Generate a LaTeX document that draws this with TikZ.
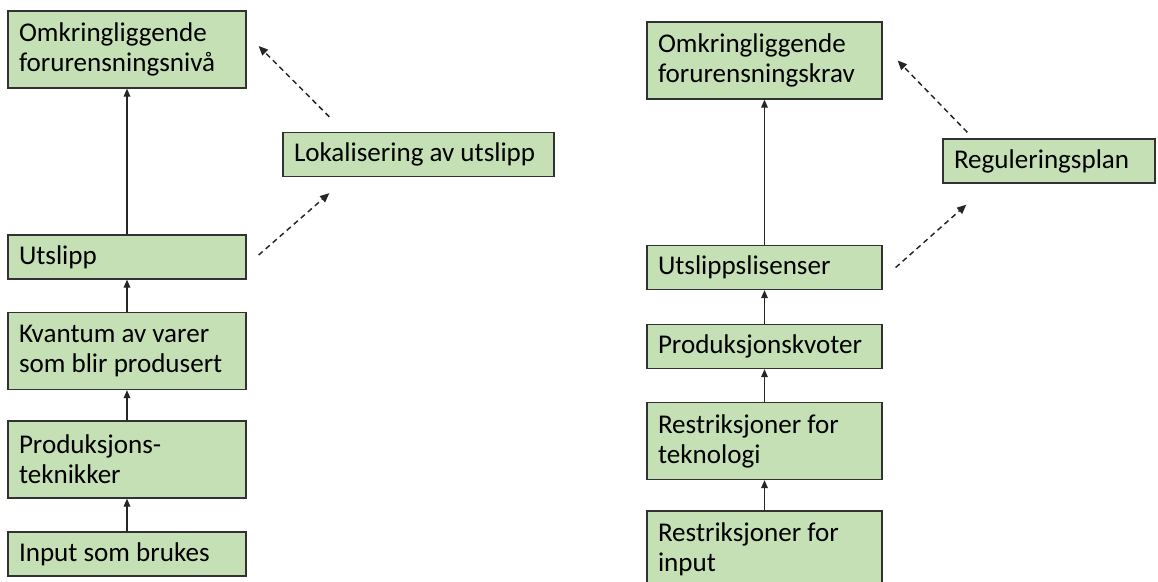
\documentclass[tikz,border=0pt]{standalone}
\usepackage{fontspec}
\setmainfont{Carlito}
\usetikzlibrary{arrows.meta,positioning}
\definecolor{boxgreen}{RGB}{197,224,180}
\definecolor{boxline}{RGB}{50,50,50}

\begin{document}
\begin{tikzpicture}[
    x=0.75pt, y=-0.75pt,
    every node/.style={font=\fontsize{20.3}{22.5}\selectfont},
    box/.style={draw=boxline, line width=1pt, fill=boxgreen, align=flush left, inner xsep=8.25pt, inner ysep=0pt, text width=#1},
    box/.default=162pt,
    tall/.style={minimum height=57.75pt},
    flat/.style={minimum height=33pt},
    flow/.style={-{Triangle[length=6pt, width=5pt]}, line width=0.9pt, draw=black!85},
    hint/.style={-{Triangle[length=7pt, width=6pt]}, line width=1.1pt, dash pattern=on 4pt off 3pt, draw=black!85}
]
\useasboundingbox (0,0) rectangle (1158,582);
% venstre side
\node[box, tall] (nivaa) at (127,49.5) {Omkringliggende\\forurensningsnivå};
\node[box, flat] (utslipp) at (127,257) {Utslipp};
\node[box, tall] (kvantum) at (127,351) {Kvantum av varer\\som blir produsert};
\node[box, tall] (teknikk) at (127,459.5) {Produksjons-\\teknikker};
\node[box, flat] (input) at (127,554) {Input som brukes};
\node[box=186.75pt, flat] (lokal) at (418.5,154.5) {Lokalisering av utslipp};
% høyre side
\node[box=159.75pt, tall] (krav) at (764.5,60.5) {Omkringliggende\\forurensningskrav};
\node[box=159.75pt, flat] (lisens) at (764.5,267.5) {Utslippslisenser};
\node[box=159.75pt, flat] (kvote) at (764.5,346.5) {Produksjonskvoter};
\node[box=159.75pt, tall] (resttek) at (764.5,441) {Restriksjoner for\\teknologi};
\node[box=159.75pt, tall] (restinp) at (764.5,549.5) {Restriksjoner for\\input};
\node[box=142.5pt, flat] (plan) at (1049,161) {Reguleringsplan};
\draw[flow] (input) -- (teknikk);
\draw[flow] (teknikk) -- (kvantum);
\draw[flow] (kvantum) -- (utslipp);
\draw[flow] (utslipp) -- (nivaa);
\draw[flow] (restinp) -- (resttek);
\draw[flow] (resttek) -- (kvote);
\draw[flow] (kvote) -- (lisens);
\draw[flow] (lisens) -- (krav);
\draw[hint] ([shift={(12,-2)}]utslipp.east) -- ([shift={(47,16)}]lokal.south west);
\draw[hint] ([shift={(47,-15)}]lokal.north west) -- ([shift={(12,-3.5)}]nivaa.east);
\draw[hint] ([shift={(13,0)}]lisens.east) -- ([shift={(24,21)}]plan.south west);
\draw[hint] ([shift={(25,-6)}]plan.north west) -- ([shift={(15,0)}]krav.east);
\end{tikzpicture}
\end{document}
